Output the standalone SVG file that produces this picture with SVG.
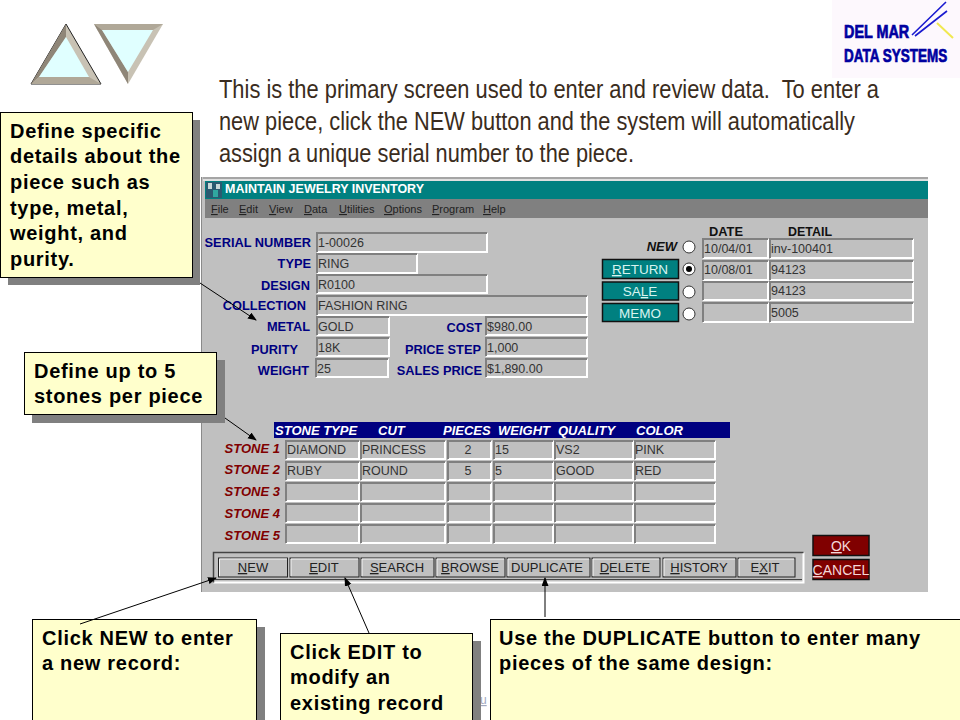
<svg xmlns="http://www.w3.org/2000/svg" width="960" height="720" viewBox="0 0 960 720">
<style>
text{font-family:"Liberation Sans",Arial,sans-serif}
.u{text-decoration:underline}
.callout{fill:#ffffcc;stroke:#000;stroke-width:1}
.shadow{fill:#808080}
.ct{font-size:20px;font-weight:700;fill:#000;letter-spacing:.7px}
.intro{font-size:24px;fill:#3a2c20}
.lbl{font-size:12.8px;font-weight:700;fill:#000080;text-anchor:end}
.stone{font-size:13px;font-weight:700;font-style:italic;fill:#800000;text-anchor:end}
.hdr{font-size:13px;font-weight:700;font-style:italic;fill:#fff}
.val{font-size:12.5px;fill:#333}
.menu{font-size:11px;fill:#222}
.wl{fill:none;stroke:#fff;stroke-width:2}
.dl{fill:none;stroke:#808080;stroke-width:2}
.btn{font-size:13px;fill:#222;text-anchor:middle}
.gbtn{fill:#c0c0c0;stroke:#222;stroke-width:1}
.tbtn{fill:#008080;stroke:#111;stroke-width:1.5}
.rbtn{fill:#800000;stroke:#111;stroke-width:1.5}
.tt{font-size:13.5px;fill:#d8f4f0;text-anchor:middle}
.rt{font-size:14px;fill:#f4d8d8;text-anchor:middle}
.rad{fill:#fff;stroke:#333;stroke-width:1}
.conn{fill:none;stroke:#000;stroke-width:1;marker-end:url(#ah)}
.logo{font-size:18px;font-weight:700;fill:#0000a0;stroke:#0000a0;stroke-width:.7}
</style>
<defs>
<marker id="ah" markerWidth="9" markerHeight="8" refX="8" refY="3.5" orient="auto" markerUnits="userSpaceOnUse"><path d="M0 0L9 3.5L0 7z" fill="#000"/></marker>
</defs>
<rect width="960" height="720" fill="#fff"/>

<g id="nav-up">
<path d="M66 24L101 84H31z" fill="#c8c2b4" stroke="#222" stroke-width="1"/>
<path d="M66 24L66 37L39 77L31 84z" fill="#8f8678"/>
<path d="M31 84L39 77H89L101 84z" fill="#b0a898"/>
<path d="M66 37L89 77H39z" fill="#e0ffff"/>
</g>
<g id="nav-down">
<path d="M94 24H163L128 84z" fill="#c8c2b4"/>
<path d="M94 24H163L153 30H102z" fill="#b0a898"/>
<path d="M94 24L102 30L128 72V84z" fill="#8f8678"/>
<path d="M102 30H153L128 72z" fill="#e0ffff"/>
</g>

<g id="logo">
<rect x="832" y="0" width="128" height="78" fill="#fdf8fd"/>
<path d="M912 35L946 2M915 36L947 11" stroke="#1a1ad0" stroke-width="1.6" fill="none"/>
<path d="M937 23L953 38" stroke="#f0e850" stroke-width="2" fill="none"/>
<text class="logo" transform="translate(844 38) scale(.8 1)">DEL MAR</text>
<text class="logo" transform="translate(844 62) scale(.75 1)">DATA SYSTEMS</text>
</g>

<g id="intro">
<text class="intro" transform="translate(219 98) scale(1 1.08)" textLength="660" lengthAdjust="spacingAndGlyphs" xml:space="preserve">This is the primary screen used to enter and review data.  To enter a</text>
<text class="intro" transform="translate(219 130) scale(1 1.08)" textLength="636" lengthAdjust="spacingAndGlyphs">new piece, click the NEW button and the system will automatically</text>
<text class="intro" transform="translate(219 162) scale(1 1.08)" textLength="415" lengthAdjust="spacingAndGlyphs">assign a unique serial number to the piece.</text>
</g>

<g id="screen">
<rect x="201" y="177" width="727" height="415" fill="#c0c0c0"/>
<path d="M201.500 177V592" stroke="#8a8a8a" fill="none"/>
<path d="M203 178H928" stroke="#8a8a8a" fill="none"/>
<path d="M203 180H928" stroke="#fff" fill="none"/>
<rect x="205" y="181" width="723" height="18" fill="#008080"/>
<rect x="205" y="199" width="723" height="19" fill="#808080"/>
<rect x="206" y="182" width="16" height="16" fill="#2a5a70"/>
<path d="M208 183h4v6h-4zM216 184h4v5h-4z" fill="#c8d8d8"/>
<path d="M213 190h5v7h-5z" fill="#30a8a0"/>
<text x="225" y="193" font-size="12" font-weight="700" fill="#fff" textLength="199" lengthAdjust="spacingAndGlyphs">MAINTAIN JEWELRY INVENTORY</text>
<g class="menu">
<text class="menu" x="211" y="213"><tspan class="u">F</tspan>ile</text>
<text class="menu" x="239" y="213"><tspan class="u">E</tspan>dit</text>
<text class="menu" x="269" y="213"><tspan class="u">V</tspan>iew</text>
<text class="menu" x="304" y="213"><tspan class="u">D</tspan>ata</text>
<text class="menu" x="339" y="213"><tspan class="u">U</tspan>tilities</text>
<text class="menu" x="384" y="213"><tspan class="u">O</tspan>ptions</text>
<text class="menu" x="432" y="213"><tspan class="u">P</tspan>rogram</text>
<text class="menu" x="483" y="213"><tspan class="u">H</tspan>elp</text>
</g>

<g id="form-labels">
<text class="lbl" x="311" y="247">SERIAL NUMBER</text>
<text class="lbl" x="311" y="268">TYPE</text>
<text class="lbl" x="310" y="290">DESIGN</text>
<text class="lbl" x="306" y="310">COLLECTION</text>
<text class="lbl" x="310" y="331">METAL</text>
<text class="lbl" x="298" y="354">PURITY</text>
<text class="lbl" x="309" y="375">WEIGHT</text>
<text class="lbl" x="482" y="332">COST</text>
<text class="lbl" x="481" y="354">PRICE STEP</text>
<text class="lbl" x="482" y="375">SALES PRICE</text>
</g>

<g id="form-fields">
<path class="wl" d="M317 252H487V233M317 273H417V254M317 293H487V275M317 315H587V296M317 335H389V317M317 356H389V338M316 377H388V359M486 335H587V317M486 356H587V338M486 377H587V359"/>
<path class="dl" d="M317 252V233H487M317 273V254H417M317 293V275H487M317 315V296H587M317 335V317H389M317 356V338H389M316 377V359H388M486 335V317H587M486 356V338H587M486 377V359H587"/>
<text class="val" x="318" y="247">1-00026</text>
<text class="val" x="318" y="268">RING</text>
<text class="val" x="318" y="289">R0100</text>
<text class="val" x="318" y="310">FASHION RING</text>
<text class="val" x="318" y="331">GOLD</text>
<text class="val" x="318" y="352">18K</text>
<text class="val" x="317" y="373">25</text>
<text class="val" x="487" y="331">$980.00</text>
<text class="val" x="487" y="352">1,000</text>
<text class="val" x="487" y="373">$1,890.00</text>
</g>

<g id="details">
<text x="709" y="236" font-size="13" font-weight="700" fill="#111" textLength="34" lengthAdjust="spacingAndGlyphs">DATE</text>
<text x="788" y="236" font-size="13" font-weight="700" fill="#111" textLength="44" lengthAdjust="spacingAndGlyphs">DETAIL</text>
<text x="677" y="251" font-size="13" font-weight="700" font-style="italic" fill="#111" text-anchor="end">NEW</text>
<rect class="tbtn" x="602.500" y="259.500" width="76" height="19"/>
<rect class="tbtn" x="602.500" y="282" width="76" height="18"/>
<rect class="tbtn" x="602.500" y="303.500" width="76" height="18"/>
<text class="tt" x="640" y="274"><tspan class="u">R</tspan>ETURN</text>
<text class="tt" x="640" y="296">SA<tspan class="u">L</tspan>E</text>
<text class="tt" x="640" y="318">MEMO</text>
<circle class="rad" cx="689" cy="247" r="6"/>
<circle class="rad" cx="689" cy="269" r="6"/>
<circle cx="689" cy="269" r="3" fill="#000"/>
<circle class="rad" cx="689" cy="292" r="6"/>
<circle class="rad" cx="689" cy="314" r="6"/>
<path class="wl" d="M703 258H768V239M703 280H768V261M703 300H768V282M703 322H768V303M770 258H913V239M770 280H913V261M770 300H913V282M770 322H913V303"/>
<path class="dl" d="M703 258V239H768M703 280V261H768M703 300V282H768M703 322V303H768M770 258V239H913M770 280V261H913M770 300V282H913M770 322V303H913"/>
<text class="val" x="704" y="253">10/04/01</text>
<text class="val" x="704" y="274">10/08/01</text>
<text class="val" x="771" y="253">inv-100401</text>
<text class="val" x="771" y="274">94123</text>
<text class="val" x="771" y="295">94123</text>
<text class="val" x="771" y="317">5005</text>
</g>

<g id="stones">
<rect x="274" y="422" width="456" height="16" fill="#000080"/>
<text class="hdr" x="275" y="435">STONE TYPE</text>
<text class="hdr" x="378" y="435">CUT</text>
<text class="hdr" x="443" y="435">PIECES</text>
<text class="hdr" x="498" y="435">WEIGHT</text>
<text class="hdr" x="558" y="435">QUALITY</text>
<text class="hdr" x="636" y="435">COLOR</text>
<text class="stone" x="280" y="453">STONE 1</text>
<text class="stone" x="280" y="474">STONE 2</text>
<text class="stone" x="280" y="496">STONE 3</text>
<text class="stone" x="280" y="518">STONE 4</text>
<text class="stone" x="280" y="540">STONE 5</text>
<path class="wl" d="M286 459H359V441M361 459H445V441M448 459H491V441M494 459H553V441M555 459H633V441M635 459H715V441M286 480H359V462M361 480H445V462M448 480H491V462M494 480H553V462M555 480H633V462M635 480H715V462M286 501H359V483M361 501H445V483M448 501H491V483M494 501H553V483M555 501H633V483M635 501H715V483M286 522H359V504M361 522H445V504M448 522H491V504M494 522H553V504M555 522H633V504M635 522H715V504M286 543H359V525M361 543H445V525M448 543H491V525M494 543H553V525M555 543H633V525M635 543H715V525"/>
<path class="dl" d="M286 459V441H359M361 459V441H445M448 459V441H491M494 459V441H553M555 459V441H633M635 459V441H715M286 480V462H359M361 480V462H445M448 480V462H491M494 480V462H553M555 480V462H633M635 480V462H715M286 501V483H359M361 501V483H445M448 501V483H491M494 501V483H553M555 501V483H633M635 501V483H715M286 522V504H359M361 522V504H445M448 522V504H491M494 522V504H553M555 522V504H633M635 522V504H715M286 543V525H359M361 543V525H445M448 543V525H491M494 543V525H553M555 543V525H633M635 543V525H715"/>
<text class="val" x="287" y="454">DIAMOND</text>
<text class="val" x="362" y="454">PRINCESS</text>
<text class="val" x="468" y="454" text-anchor="middle">2</text>
<text class="val" x="495" y="454">15</text>
<text class="val" x="556" y="454">VS2</text>
<text class="val" x="635" y="454">PINK</text>
<text class="val" x="287" y="475">RUBY</text>
<text class="val" x="362" y="475">ROUND</text>
<text class="val" x="468" y="475" text-anchor="middle">5</text>
<text class="val" x="495" y="475">5</text>
<text class="val" x="556" y="475">GOOD</text>
<text class="val" x="635" y="475">RED</text>
</g>

<g id="toolbar">
<path d="M213.500 582.500H803.500V552.500" fill="none" stroke="#fff" stroke-width="2"/>
<path d="M213.500 582.500V552.500H803.500" fill="none" stroke="#444" stroke-width="1.500"/>
<path d="M215 579.500H802" fill="none" stroke="#444" stroke-width="1"/>
<rect class="gbtn" x="218.500" y="558" width="69" height="19"/>
<rect class="gbtn" x="290" y="558" width="69" height="19"/>
<rect class="gbtn" x="361" y="558" width="73" height="19"/>
<rect class="gbtn" x="436" y="558" width="69" height="19"/>
<rect class="gbtn" x="507" y="558" width="83" height="19"/>
<rect class="gbtn" x="592" y="558" width="68" height="19"/>
<rect class="gbtn" x="663" y="558" width="73" height="19"/>
<rect class="gbtn" x="738" y="558" width="57" height="19"/>
<path d="M219.500 576V559H287M291 576V559H358M362 576V559H433M437 576V559H504M508 576V559H589M593 576V559H659M664 576V559H735M739 576V559H794" fill="none" stroke="#f4f4f4" stroke-width="1"/>
<text class="btn" x="253" y="572"><tspan class="u">N</tspan>EW</text>
<text class="btn" x="324" y="572"><tspan class="u">E</tspan>DIT</text>
<text class="btn" x="397" y="572"><tspan class="u">S</tspan>EARCH</text>
<text class="btn" x="470" y="572"><tspan class="u">B</tspan>ROWSE</text>
<text class="btn" x="547" y="572">DUPLICATE</text>
<text class="btn" x="625" y="572"><tspan class="u">D</tspan>ELETE</text>
<text class="btn" x="699" y="572"><tspan class="u">H</tspan>ISTORY</text>
<text class="btn" x="765" y="572">E<tspan class="u">X</tspan>IT</text>
</g>

<g id="ok-cancel">
<rect class="rbtn" x="813" y="535.500" width="56" height="20"/>
<rect class="rbtn" x="813" y="559.500" width="56" height="20"/>
<text class="rt" x="841" y="551"><tspan class="u">O</tspan>K</text>
<text class="rt" x="841" y="575"><tspan class="u">C</tspan>ANCEL</text>
</g>
</g>

<text x="480" y="704" font-size="12" fill="#a0a8c0" class="u">u</text>

<g id="callout-details">
<rect class="shadow" x="8" y="120" width="192" height="165"/>
<rect class="callout" x="0.500" y="112.500" width="192" height="165"/>
<text class="ct" x="10" y="138">Define specific</text>
<text class="ct" x="10" y="163">details about the</text>
<text class="ct" x="10" y="189">piece such as</text>
<text class="ct" x="10" y="215">type, metal,</text>
<text class="ct" x="10" y="240">weight, and</text>
<text class="ct" x="10" y="266">purity.</text>
</g>
<g id="callout-stones">
<rect class="shadow" x="32" y="360" width="193" height="63"/>
<rect class="callout" x="24.500" y="352.500" width="192" height="62"/>
<text class="ct" x="34" y="378">Define up to 5</text>
<text class="ct" x="34" y="403">stones per piece</text>
</g>
<g id="callout-new">
<rect class="shadow" x="40" y="627" width="225" height="93"/>
<rect class="callout" x="32.500" y="619.500" width="224" height="110"/>
<text class="ct" x="42" y="645">Click NEW to enter</text>
<text class="ct" x="42" y="670">a new record:</text>
</g>
<g id="callout-edit">
<rect class="shadow" x="288" y="641" width="193" height="79"/>
<rect class="callout" x="280.500" y="633.500" width="192" height="96"/>
<text class="ct" x="290" y="659">Click EDIT to</text>
<text class="ct" x="290" y="684">modify an</text>
<text class="ct" x="290" y="710">existing record</text>
</g>
<g id="callout-duplicate">
<rect class="callout" x="490.500" y="619.500" width="480" height="110"/>
<text class="ct" x="499" y="645">Use the DUPLICATE button to enter many</text>
<text class="ct" x="499" y="670">pieces of the same design:</text>
</g>

<g id="connectors">
<path class="conn" d="M200 283L256 320"/>
<path class="conn" d="M225 418L256 440"/>
<path class="conn" d="M80 624L216 578"/>
<path class="conn" d="M369 633L345 578"/>
<path class="conn" d="M545 617V578"/>
</g>
</svg>
